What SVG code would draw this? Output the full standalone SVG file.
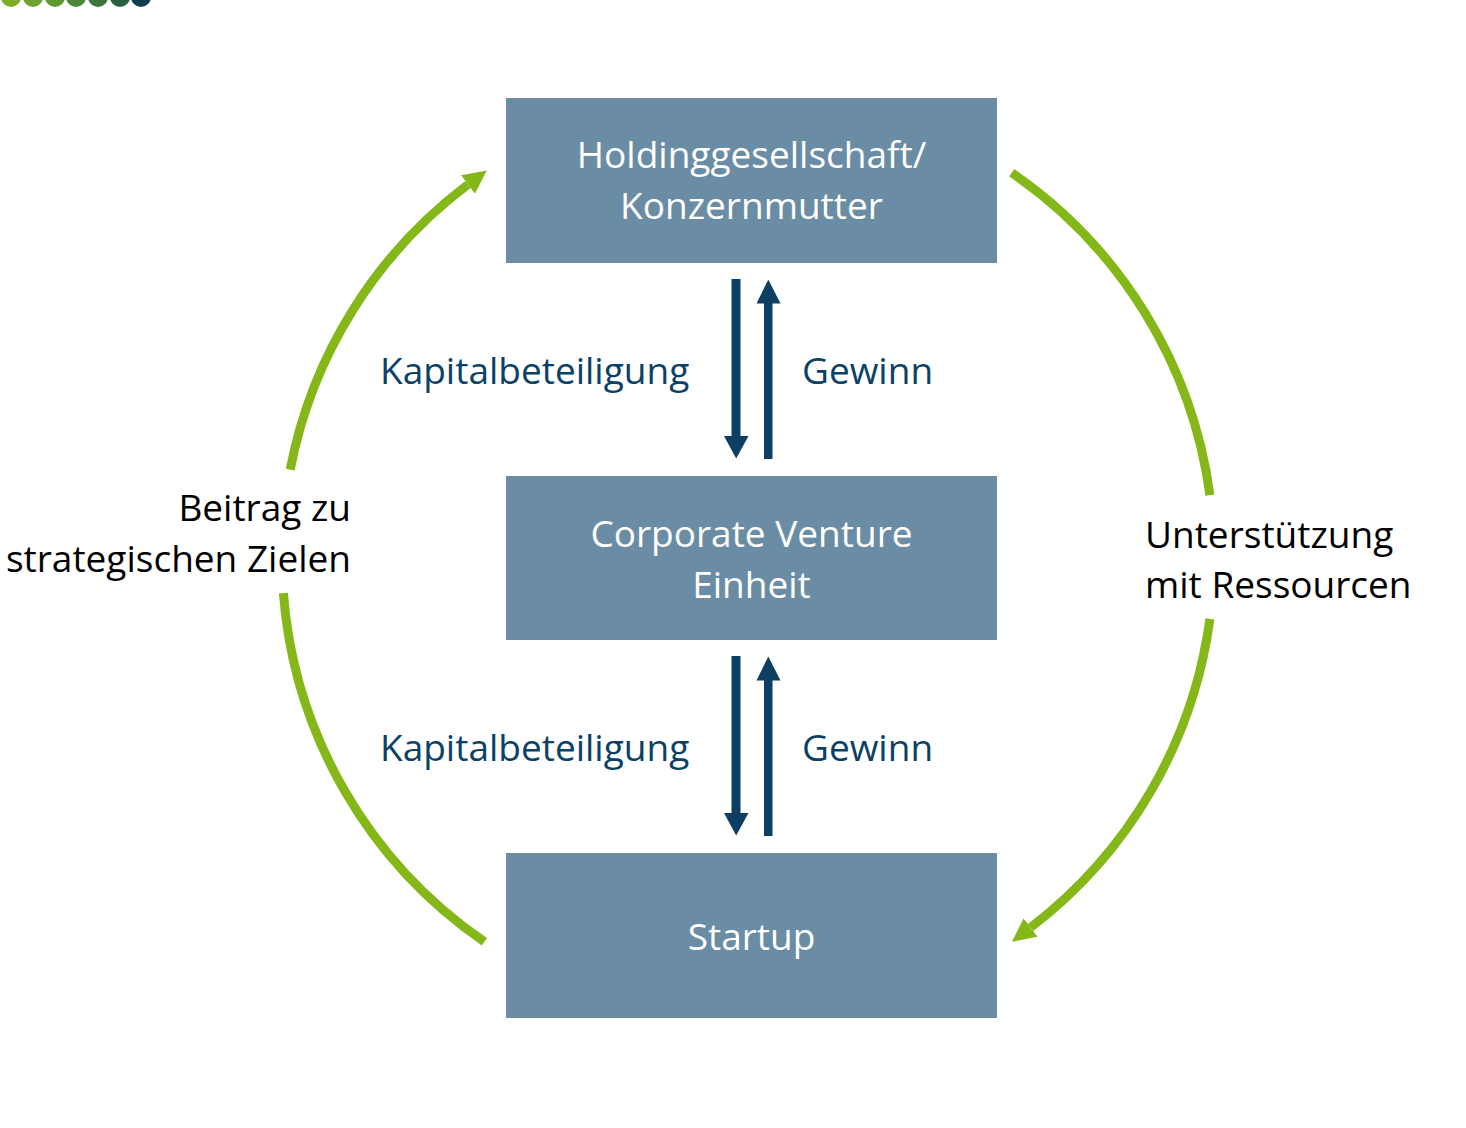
<svg xmlns="http://www.w3.org/2000/svg" width="1466" height="1128" viewBox="0 0 1466 1128">
<style>
.box{fill:#6a8ca5}
.bt{font-family:"Open Sans","Liberation Sans",sans-serif;font-size:37px;fill:#ffffff;text-anchor:middle}
.lbl{font-family:"Open Sans","Liberation Sans",sans-serif;font-size:37px;fill:#0b4166}
.blk{font-family:"Open Sans","Liberation Sans",sans-serif;font-size:37px;fill:#000000}
.dk{fill:#0d3f63}
.arc{fill:none;stroke:#84b819;stroke-width:9}
</style>
<defs>
<marker id="ga" markerUnits="userSpaceOnUse" markerWidth="26" markerHeight="26" viewBox="0 -13 26 26" refX="0" refY="0" orient="auto">
<path d="M0,-11.5 L23.5,0 L0,11.5 Z" fill="#84b819"/>
</marker>
</defs>
<rect width="1466" height="1128" fill="#ffffff"/>
<g id="dots">
<circle cx="11" cy="-3" r="10" fill="#7bae27"/>
<circle cx="33" cy="-3" r="10" fill="#6ca42d"/>
<circle cx="55" cy="-3" r="10" fill="#5d9833"/>
<circle cx="76" cy="-3" r="10" fill="#4c8838"/>
<circle cx="98" cy="-3" r="10" fill="#3b763d"/>
<circle cx="120" cy="-3" r="10" fill="#2a6043"/>
<circle cx="141" cy="-3" r="10" fill="#0f3e4f"/>
</g>
<g id="holding">
<rect class="box" x="506" y="98" width="491" height="165"/>
<text class="bt" x="751.5" y="168">Holdinggesellschaft/</text>
<text class="bt" x="751.5" y="219">Konzernmutter</text>
</g>
<g id="cv">
<rect class="box" x="506" y="476" width="491" height="164"/>
<text class="bt" x="751.5" y="547">Corporate Venture</text>
<text class="bt" x="751.5" y="598">Einheit</text>
</g>
<g id="startup">
<rect class="box" x="506" y="853" width="491" height="165"/>
<text class="bt" x="751.5" y="950">Startup</text>
</g>
<g id="connectors">
<rect class="dk" x="731.5" y="279" width="9" height="158"/>
<polygon class="dk" points="724,436 748.5,436 736.2,458.5"/>
<rect class="dk" x="764" y="301" width="8.5" height="158"/>
<polygon class="dk" points="756.5,303.5 780.5,303.5 768.3,279.5"/>
<rect class="dk" x="731.5" y="656" width="9" height="158"/>
<polygon class="dk" points="724,813 748.5,813 736.2,835.5"/>
<rect class="dk" x="764" y="678" width="8.5" height="158"/>
<polygon class="dk" points="756.5,680.5 780.5,680.5 768.3,656.5"/>
<path class="arc" d="M290.2,469.7 A466,466 0 0 1 468,184.5" marker-end="url(#ga)"/>
<path class="arc" d="M1011.7,172.8 A466,466 0 0 1 1209.9,495.1"/>
<path class="arc" d="M1209.9,618.9 A466,466 0 0 1 1030.6,927.5" marker-end="url(#ga)"/>
<path class="arc" d="M283.4,593.1 A466,466 0 0 0 484.4,941.8"/>
</g>
<g id="labels">
<text class="lbl" x="380" y="384">Kapitalbeteiligung</text>
<text class="lbl" x="802" y="384">Gewinn</text>
<text class="lbl" x="380" y="761">Kapitalbeteiligung</text>
<text class="lbl" x="802" y="761">Gewinn</text>
<text class="blk" x="351" y="521" text-anchor="end">Beitrag zu</text>
<text class="blk" x="351" y="572" text-anchor="end">strategischen Zielen</text>
<text class="blk" x="1145" y="548">Unterstützung</text>
<text class="blk" x="1145" y="598">mit Ressourcen</text>
</g>
</svg>
